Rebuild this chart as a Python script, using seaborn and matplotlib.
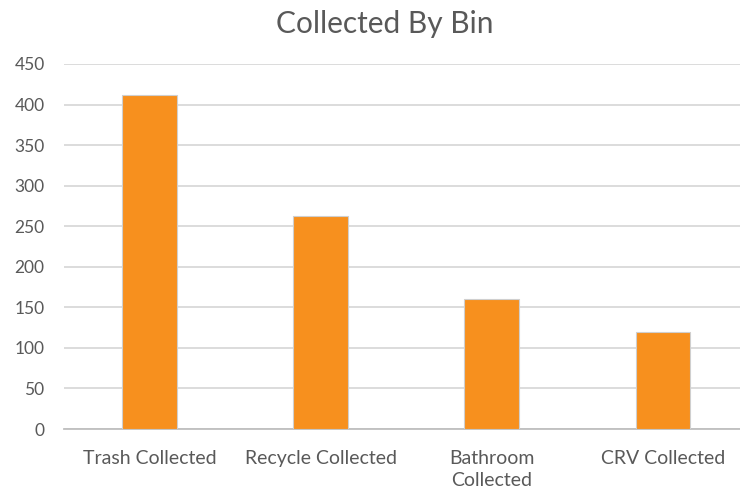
import matplotlib
matplotlib.use("Agg")
import matplotlib.pyplot as plt
import seaborn as sns
import pandas as pd

categories = ["Trash Collected", "Recycle Collected", "Bathroom\nCollected", "CRV Collected"]
values = [412, 263, 160, 119]
y_ticks = [0, 50, 100, 150, 200, 250, 300, 350, 400, 450]

df = pd.DataFrame({"bin": categories, "count": values})

sns.set_theme(style="white")
plt.rcParams["font.family"] = ["Lato", "DejaVu Sans"]

fig = plt.figure(figsize=(7.4, 4.93), dpi=100)
ax = fig.add_axes([0.0865, 0.1298, 0.9135, 0.7404])

sns.barplot(data=df, x="bin", y="count", color="#F7901E", width=0.32,
            edgecolor="#cfcfcf", linewidth=0.8, saturation=1, ax=ax, zorder=3)

ax.set_ylim(0, 450)
ax.set_yticks(y_ticks)
ax.set_xlim(-0.5, 3.45)
ax.yaxis.grid(True, color="#d9d9d9", linewidth=1.3, zorder=0)
ax.set_axisbelow(True)
for s in ["top", "right", "left"]:
    ax.spines[s].set_visible(False)
ax.spines["bottom"].set_color("#bfbfbf")
ax.spines["bottom"].set_linewidth(1.3)
ax.set_xlabel("")
ax.set_ylabel("")
ax.tick_params(axis="both", length=0, labelcolor="#595959")
ax.tick_params(axis="x", labelsize=14, pad=15)
ax.tick_params(axis="y", labelsize=12.5, pad=14)
for lbl in ax.get_xticklabels():
    lbl.set_linespacing(1.35)

fig.suptitle("Collected By Bin", x=0.52, y=0.98, fontsize=21.5, color="#595959")

fig.savefig("out.png", dpi=100)
